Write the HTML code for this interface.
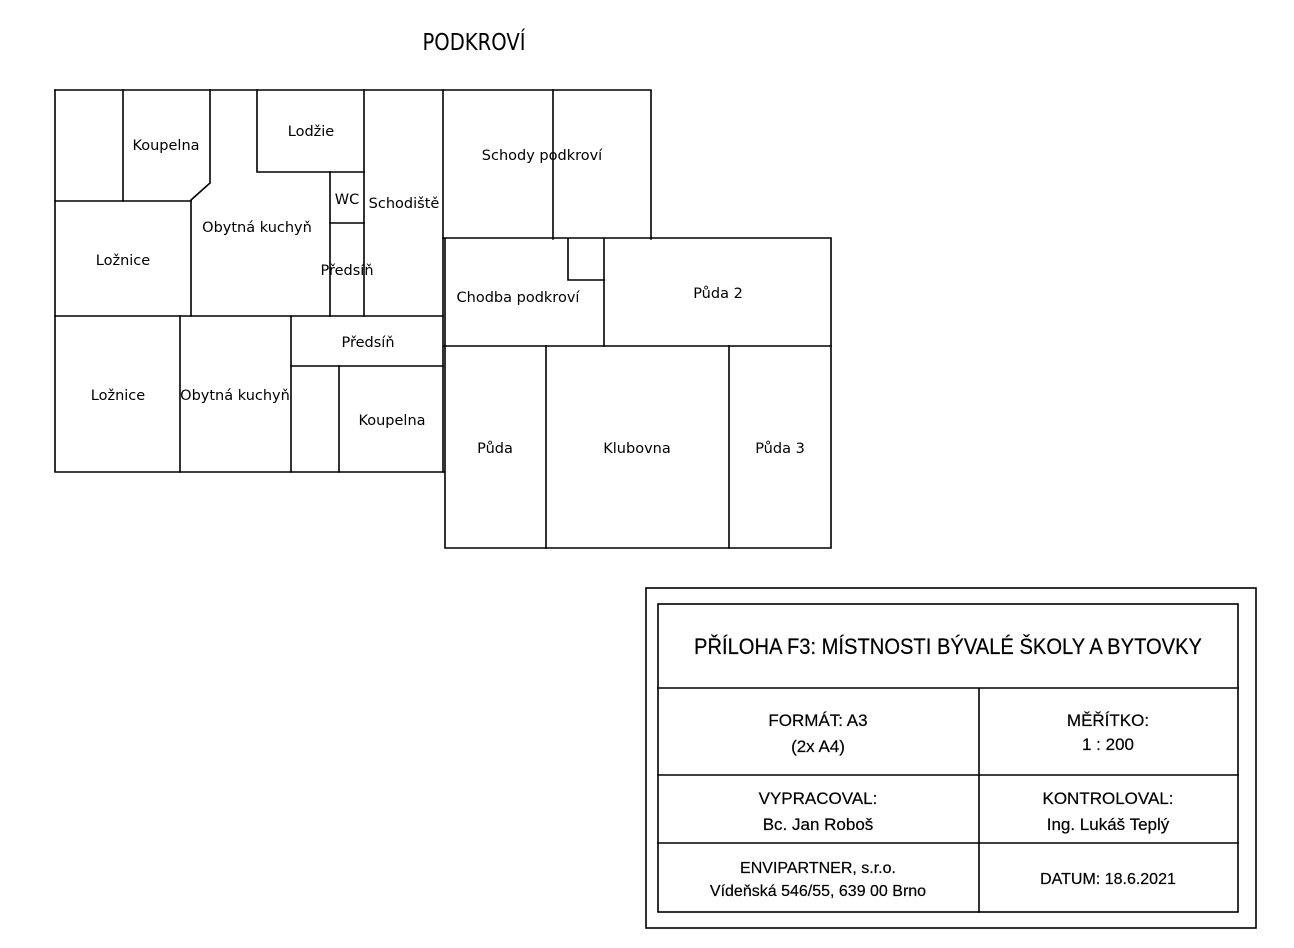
<!DOCTYPE html>
<html><head><meta charset="utf-8"><style>
html,body{margin:0;padding:0;background:#fff;}
svg{display:block;}
.r{font-family:"DejaVu Sans",sans-serif;font-size:14.5px;fill:#000;}
.t{font-family:"Liberation Sans",sans-serif;fill:#000;}
</style></head><body>
<svg width="1294" height="948" viewBox="0 0 1294 948" xmlns="http://www.w3.org/2000/svg">
<g stroke="#000" stroke-width="1.6" fill="none" stroke-linecap="square">
<path d="M55 90 H651 V239"/>
<path d="M55 90 V472 H444"/>
<path d="M123 90 V201"/>
<path d="M55 201 H191"/>
<path d="M210 90 V183 L191 200 V316"/>
<path d="M257 90 V172 H364"/>
<path d="M364 90 V316"/>
<path d="M330 172 V316"/>
<path d="M330 223 H364"/>
<path d="M55 316 H443"/>
<path d="M180 316 V472"/>
<path d="M291 316 V472"/>
<path d="M291 366 H443"/>
<path d="M339 366 V472"/>
<path d="M443 90 V472"/>
<path d="M445 239 V548 H831 V238 H443"/>
<path d="M553 90 V239"/>
<path d="M568 239 V280 H604"/>
<path d="M604 239 V346"/>
<path d="M444 346 H831"/>
<path d="M546 346 V548"/>
<path d="M729 346 V548"/>
<rect x="646" y="588" width="610" height="340"/>
<rect x="658" y="604" width="580" height="308"/>
<path d="M658 688 H1238 M658 775 H1238 M658 843 H1238 M979 688 V912"/>
</g>
<text class="r" x="474" y="50" text-anchor="middle" style="font-size:23px" textLength="103" lengthAdjust="spacingAndGlyphs">PODKROVÍ</text>
<g class="r" text-anchor="middle">
<text x="166" y="150">Koupelna</text>
<text x="311" y="136">Lodžie</text>
<text x="347" y="204">WC</text>
<text x="404" y="208">Schodiště</text>
<text x="257" y="232">Obytná kuchyň</text>
<text x="123" y="265">Ložnice</text>
<text x="347" y="275">Předsíň</text>
<text x="368" y="347">Předsíň</text>
<text x="118" y="400">Ložnice</text>
<text x="235" y="400">Obytná kuchyň</text>
<text x="392" y="425">Koupelna</text>
<text x="542" y="160">Schody podkroví</text>
<text x="518" y="302">Chodba podkroví</text>
<text x="718" y="298">Půda 2</text>
<text x="495" y="453">Půda</text>
<text x="637" y="453">Klubovna</text>
<text x="780" y="453">Půda 3</text>
</g>
<g class="t" text-anchor="middle" stroke="#000" stroke-width="0.2">
<text x="948" y="654" font-size="22" textLength="508" lengthAdjust="spacingAndGlyphs">PŘÍLOHA F3: MÍSTNOSTI BÝVALÉ ŠKOLY A BYTOVKY</text>
<text x="818" y="726" font-size="17">FORMÁT: A3</text>
<text x="818" y="752" font-size="17">(2x A4)</text>
<text x="1108" y="726" font-size="17">MĚŘÍTKO:</text>
<text x="1108" y="750" font-size="17">1 : 200</text>
<text x="818" y="804" font-size="17">VYPRACOVAL:</text>
<text x="818" y="830" font-size="17">Bc. Jan Roboš</text>
<text x="1108" y="804" font-size="17">KONTROLOVAL:</text>
<text x="1108" y="830" font-size="17">Ing. Lukáš Teplý</text>
<text x="818" y="873" font-size="16">ENVIPARTNER, s.r.o.</text>
<text x="818" y="896" font-size="16">Vídeňská 546/55, 639 00 Brno</text>
<text x="1108" y="884" font-size="16">DATUM: 18.6.2021</text>
</g>
</svg>
</body></html>
